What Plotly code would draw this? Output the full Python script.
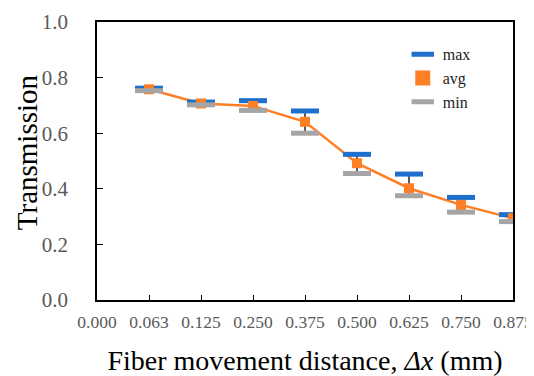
import plotly.graph_objects as go

categories = ["0.000", "0.063", "0.125", "0.250", "0.375", "0.500", "0.625", "0.750", "0.875"]
avg_vals = [0.758, 0.707, 0.698, 0.641, 0.492, 0.402, 0.342, 0.294]
max_vals = [0.762, 0.712, 0.717, 0.680, 0.524, 0.453, 0.369, 0.307]
min_vals = [0.753, 0.702, 0.682, 0.600, 0.455, 0.375, 0.316, 0.282]

xpos = list(range(1, len(categories)))

BLUE = "#1F6FCC"
ORANGE = "#FF7F27"
GRAY = "#A5A5A5"

fig = go.Figure()

# high-low lines
lx, ly = [], []
for x, lo, hi in zip(xpos, min_vals, max_vals):
    lx += [x, x, None]
    ly += [lo, hi, None]
fig.add_trace(go.Scatter(x=lx, y=ly, mode="lines", line=dict(color="#222222", width=1.5),
                         showlegend=False, hoverinfo="skip"))

# avg line
fig.add_trace(go.Scatter(x=xpos, y=avg_vals, mode="lines", line=dict(color=ORANGE, width=2.5),
                         showlegend=False))

fig.add_trace(go.Scatter(x=xpos, y=max_vals, mode="markers", name="max", legendrank=1,
                         marker=dict(symbol="line-ew", size=20, line=dict(color=BLUE, width=5))))
fig.add_trace(go.Scatter(x=xpos, y=avg_vals, mode="markers", name="avg", showlegend=False,
                         marker=dict(symbol="square", size=10, color=ORANGE)))
# legend entry for avg (larger square, as in the reference legend)
fig.add_trace(go.Scatter(x=[None], y=[None], mode="markers", name="avg", legendrank=2,
                         marker=dict(symbol="square", size=15, color=ORANGE)))
fig.add_trace(go.Scatter(x=xpos, y=min_vals, mode="markers", name="min", legendrank=3,
                         marker=dict(symbol="line-ew", size=20, line=dict(color=GRAY, width=5))))

serif = "Liberation Serif"

# the page body has an 8px margin, so the figure is sized to fill the rest of the window
fig.update_layout(
    width=526, height=368,
    margin=dict(l=89, r=21, t=14, b=76),
    plot_bgcolor="white", paper_bgcolor="white",
    font=dict(family=serif, color="#595959", size=19),
    legend=dict(x=0.735, y=0.945, xanchor="left", yanchor="top", bgcolor="rgba(0,0,0,0)",
                font=dict(family=serif, size=16, color="#222222"), tracegroupgap=0, itemwidth=30),
    xaxis=dict(
        range=[0, 8], tickmode="array", tickvals=list(range(len(categories))), ticktext=categories,
        showline=True, linecolor="black", linewidth=1.5, mirror=True,
        ticks="inside", ticklen=5, tickcolor="black", showgrid=False, zeroline=False,
        ticklabelstandoff=5, tickfont=dict(family=serif, size=17.5), ticklabeloverflow="allow",
        automargin=False,
        title=dict(text="Fiber movement distance, <i>Δx</i> (mm)",
                   font=dict(family=serif, size=28, color="black"), standoff=23),
    ),
    yaxis=dict(
        range=[0, 1.0], tickmode="array", tickvals=[0, 0.2, 0.4, 0.6, 0.8, 1.0],
        ticktext=["0.0", "0.2", "0.4", "0.6", "0.8", "1.0"],
        showline=True, linecolor="black", linewidth=1.5, mirror=True,
        ticks="inside", ticklen=6, tickcolor="black", showgrid=False, zeroline=False,
        ticklabelstandoff=23, tickfont=dict(family=serif, size=21), ticklabeloverflow="allow",
        automargin=False,
    ),
    annotations=[dict(
        text="Transmission", textangle=-90, showarrow=False,
        xref="paper", yref="paper", x=-0.168, y=0.532, xanchor="center", yanchor="middle",
        font=dict(family=serif, size=29, color="black"),
    )],
)

fig.write_html("out.html")
